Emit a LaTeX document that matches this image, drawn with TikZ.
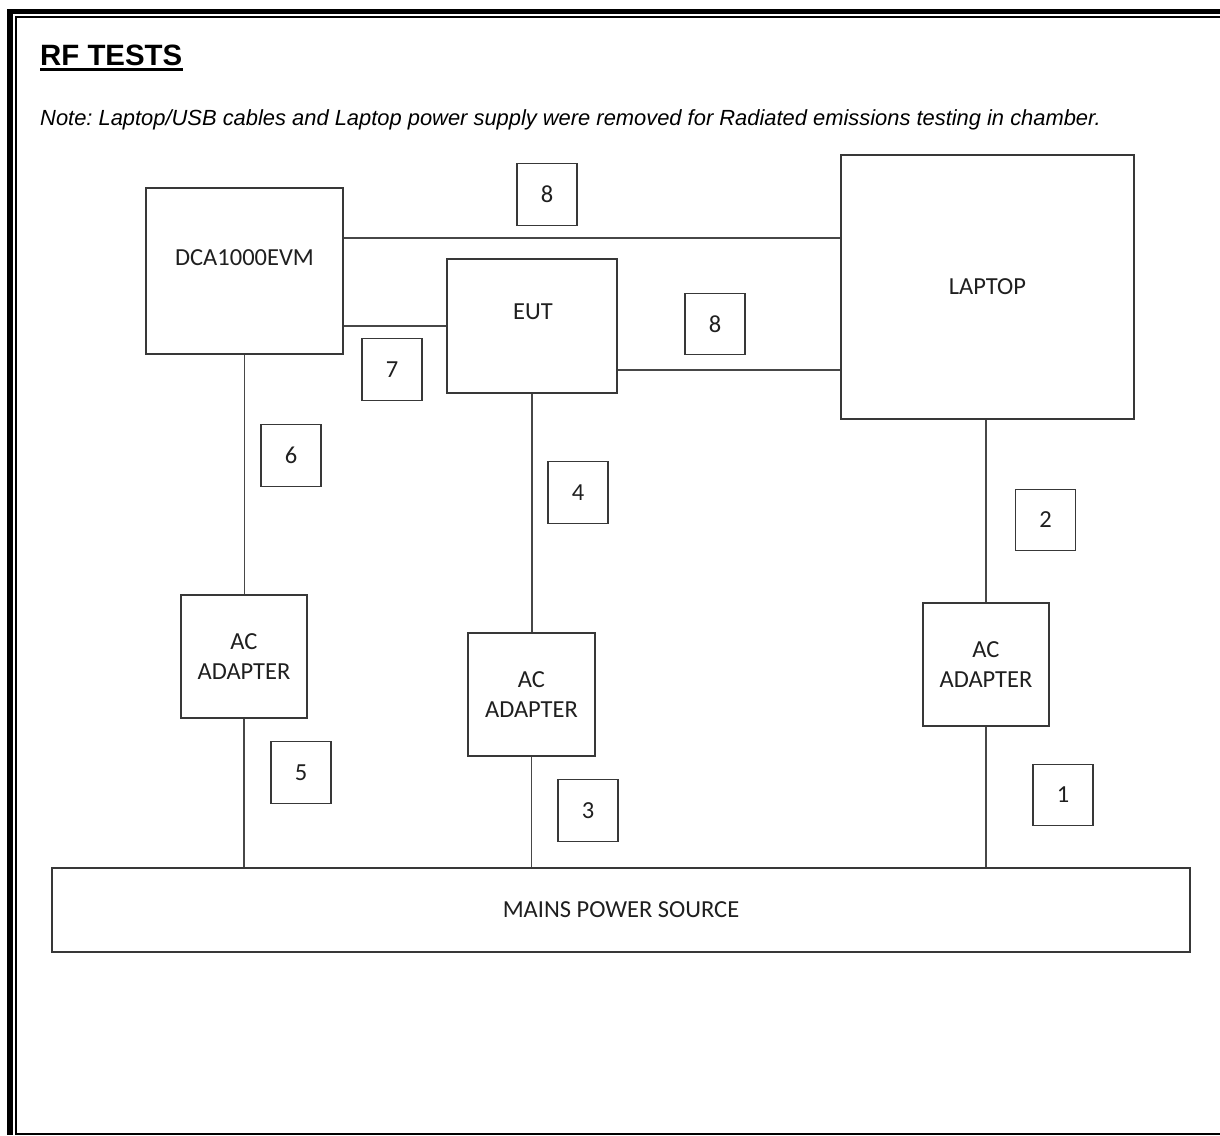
\documentclass[tikz,border=0pt]{standalone}
\usepackage{fontspec}
\setmainfont{Liberation Sans}
\newfontfamily\boxfont{Carlito}
\frenchspacing
\begin{document}
\begin{tikzpicture}[x=1pt,y=-1pt,
  box/.style={draw=black!78, line width=1.4pt, inner sep=0pt, fill=none,
    text=black!88, font=\boxfont\fontsize{24.5}{30}\selectfont, align=center},
  numbox/.style={box, minimum width=60pt, minimum height=61.5pt},
  wire/.style={draw=black!72, line width=1.4pt},
  lbl/.style={inner sep=0pt, text=black!88, font=\boxfont\fontsize{24.5}{30}\selectfont}
]
\useasboundingbox (0,0) rectangle (1220,1135);
% page border (cropped double frame)
\fill[black] (7,9) rectangle (13,1135);
\fill[black] (7,9) rectangle (1220,14);
\fill[black] (15,16) rectangle (16.8,1134.6);
\fill[black] (15,16) rectangle (1220,18);
\fill[black] (15,1132.8) rectangle (1220,1134.6);

% title and note
\node[anchor=base west, inner sep=0pt, font=\bfseries\fontsize{29.4}{36}\selectfont] (title) at (40,65) {RF TESTS};
\draw[line width=2.6pt] ([yshift=-4.6pt]title.base west) -- ([yshift=-4.6pt]title.base east);
\node[anchor=base west, inner sep=0pt, font=\itshape\fontsize{21.9}{26}\selectfont] (note) at (40,125)
  {Note: Laptop/USB cables and Laptop power supply were removed for Radiated emissions testing in chamber.};

% main boxes
\node[box, minimum width=197pt, minimum height=166pt] (dca) at (244.5,271) {};
\node[lbl] (dcalbl) at (244.5,258) {DCA1000EVM};
\node[box, minimum width=170pt, minimum height=134pt] (eut) at (532,326) {};
\node[lbl] (eutlbl) at (533,312) {EUT};
\node[box, minimum width=293pt, minimum height=264pt] (laptop) at (987.5,287) {LAPTOP};
\node[box, minimum width=126pt, minimum height=123pt] (adp1) at (244,656.5) {AC\\ADAPTER};
\node[box, minimum width=127pt, minimum height=123pt] (adp2) at (531.5,694.5) {AC\\ADAPTER};
\node[box, minimum width=126pt, minimum height=123pt] (adp3) at (986,664.5) {AC\\ADAPTER};
\node[box, minimum width=1138pt, minimum height=84pt] (mains) at (621,910) {MAINS POWER SOURCE};

% cable number boxes
\node[numbox] (n8a) at (547,194.5) {8};
\node[numbox] (n8b) at (715,324) {8};
\node[numbox] (n7) at (392,369.5) {7};
\node[numbox] (n6) at (291,455.5) {6};
\node[numbox] (n4) at (578,492.5) {4};
\node[numbox] (n2) at (1045.5,520) {2};
\node[numbox] (n5) at (301,772.5) {5};
\node[numbox] (n3) at (588,810.5) {3};
\node[numbox] (n1) at (1063,795) {1};

% connectors
\draw[wire] (dca.east |- 0,238) -- (laptop.west |- 0,238);
\draw[wire] (dca.east |- 0,326) -- (eut.west |- 0,326);
\draw[wire] (eut.east |- 0,370) -- (laptop.west |- 0,370);
\draw[wire] (dca.south) -- (dca.south |- adp1.north);
\draw[wire] (eut.south) -- (eut.south |- adp2.north);
\draw[wire] (adp3.north |- laptop.south) -- (adp3.north);
\draw[wire] (adp1.south) -- (adp1.south |- mains.north);
\draw[wire] (adp2.south) -- (adp2.south |- mains.north);
\draw[wire] (adp3.south) -- (adp3.south |- mains.north);
\end{tikzpicture}
\end{document}
